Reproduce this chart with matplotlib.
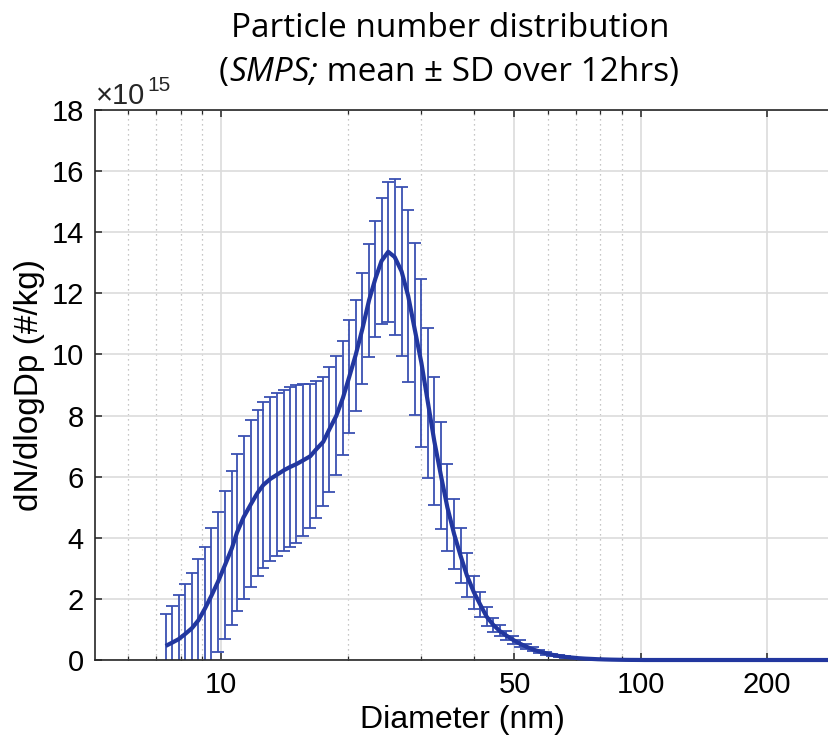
import matplotlib
matplotlib.use('Agg')
import matplotlib.pyplot as plt
from matplotlib.ticker import FixedLocator, NullFormatter, FixedFormatter

# SMPS channel midpoints (64 channels / decade)
diameter_nm = [7.37, 7.64, 7.91, 8.20, 8.51, 8.82, 9.14, 9.47, 9.82, 10.2,
               10.6, 10.9, 11.3, 11.8, 12.2, 12.6, 13.1, 13.6, 14.1, 14.6,
               15.1, 15.7, 16.3, 16.8, 17.5, 18.1, 18.8, 19.5, 20.2, 20.9,
               21.7, 22.5, 23.3, 24.1, 25.0, 25.9, 26.9, 27.9, 28.9, 30.0,
               31.1, 32.2, 33.4, 34.6, 35.9, 37.2, 38.5, 40.0, 41.4, 42.9,
               44.5, 46.1, 47.8, 49.6, 51.4, 53.3, 55.2, 57.3, 59.4, 61.5,
               63.8, 66.1, 68.5, 71.0, 73.7, 76.4, 79.1, 82.0, 85.1, 88.2,
               91.4, 94.7, 98.2, 101.8, 105.5, 109.4, 113.4, 117.6, 121.9, 126.3,
               131.0, 135.8, 140.7, 145.9, 151.2, 156.8, 162.5, 168.5, 174.7, 181.1,
               187.7, 194.6, 201.7, 209.1, 216.7, 224.7, 232.9, 241.4, 250.3, 259.5,
               269.0, 278.8, 289.0]

# dN/dlogDp in units of 1e15 #/kg
mean_dndlogdp = [0.46, 0.57, 0.68, 0.85, 1.04, 1.30, 1.68, 2.10, 2.56, 3.10,
                 3.66, 4.17, 4.67, 5.13, 5.47, 5.73, 5.93, 6.07, 6.21, 6.32,
                 6.41, 6.54, 6.67, 6.88, 7.14, 7.55, 7.99, 8.58, 9.28, 9.97,
                 10.84, 11.77, 12.48, 13.06, 13.36, 13.19, 12.72, 11.91, 10.84, 9.72,
                 8.41, 7.16, 6.03, 4.99, 4.12, 3.41, 2.77, 2.22, 1.82, 1.42,
                 1.15, 0.95, 0.80, 0.66, 0.54, 0.44, 0.35, 0.28, 0.22, 0.17,
                 0.13, 0.10, 0.08, 0.06, 0.045, 0.035, 0.025, 0.018, 0.012, 0.008,
                 0.005, 0.003, 0.002, 0.0, 0.0, 0.0, 0.0, 0.0, 0.0, 0.0,
                 0.0, 0.0, 0.0, 0.0, 0.0, 0.0, 0.0, 0.0, 0.0, 0.0,
                 0.0, 0.0, 0.0, 0.0, 0.0, 0.0, 0.0, 0.0, 0.0, 0.0,
                 0.0, 0.0, 0.0]

sd_dndlogdp = [1.04, 1.20, 1.45, 1.64, 1.82, 1.99, 2.01, 2.21, 2.29, 2.42,
               2.51, 2.57, 2.66, 2.73, 2.72, 2.72, 2.69, 2.67, 2.63, 2.63,
               2.59, 2.48, 2.36, 2.24, 2.11, 2.04, 1.95, 1.87, 1.85, 1.81,
               1.81, 1.84, 1.90, 2.07, 2.29, 2.55, 2.76, 2.82, 2.82, 2.74,
               2.44, 2.09, 1.75, 1.42, 1.14, 0.90, 0.72, 0.54, 0.42, 0.31,
               0.23, 0.18, 0.15, 0.12, 0.10, 0.08, 0.065, 0.05, 0.04, 0.03,
               0.025, 0.02, 0.015, 0.01, 0.008, 0.006, 0.005, 0.004, 0.003, 0.002,
               0.001, 0.001]

x_ticks = [10, 50, 100, 200]
x_ticklabels = ['10', '50', '100', '200']
x_minor = [6, 7, 8, 9, 20, 30, 40, 60, 70, 80, 90, 300]
y_ticks = [0, 2, 4, 6, 8, 10, 12, 14, 16, 18]

line_col = '#22379f'
err_col = '#3a50b2'
W, H = 829, 741

plt.rcParams['font.family'] = ['Liberation Sans', 'DejaVu Sans']

fig = plt.figure(figsize=(W / 100, H / 100), dpi=100)
ax = fig.add_axes([95 / W, (H - 660) / H, (W - 95) / W, 550 / H])

n_err = len(sd_dndlogdp)
ax.errorbar(diameter_nm[:n_err], mean_dndlogdp[:n_err], yerr=sd_dndlogdp,
            fmt='none', ecolor=err_col, elinewidth=1.3, capsize=4.5,
            capthick=1.3, zorder=2)
ax.plot(diameter_nm, mean_dndlogdp, color=line_col, lw=3.0, zorder=4,
        clip_on=False, solid_capstyle='butt')

ax.set_xscale('log')
ax.set_xlim(5, 281)
ax.set_ylim(0, 18)
ax.xaxis.set_major_locator(FixedLocator(x_ticks))
ax.xaxis.set_major_formatter(FixedFormatter(x_ticklabels))
ax.xaxis.set_minor_locator(FixedLocator(x_minor))
ax.xaxis.set_minor_formatter(NullFormatter())
ax.set_yticks(y_ticks)

ax.grid(True, which='major', color='#dcdcdc', lw=1.2)
ax.grid(True, which='minor', axis='x', color='#b4b4b4', lw=0.9, ls=(0, (1, 3)))
ax.set_axisbelow(True)

ax.spines['right'].set_visible(False)
for s in ['left', 'bottom', 'top']:
    ax.spines[s].set_color('#262626')
    ax.spines[s].set_linewidth(1.2)
ax.tick_params(which='both', direction='in', top=True, right=False,
               colors='#262626', labelsize=21, pad=8)
ax.tick_params(which='major', length=5, width=1.1)
ax.tick_params(which='minor', length=3, width=0.9)
for lab in ax.get_xticklabels() + ax.get_yticklabels():
    lab.set_color('black')

ax.set_xlabel('Diameter (nm)', fontsize=23, labelpad=4)
ax.set_ylabel('dN/dlogDp (#/kg)', fontsize=24, labelpad=5)

# title, two lines, "SMPS;" in italic
tfont = ['Open Sans', 'DejaVu Sans']
tsize = 24
fig.text(450 / W, 1 - 37 / H, 'Particle number distribution', family=tfont,
         fontsize=tsize, ha='center', va='baseline')
pieces = [('(', 'normal'), ('SMPS;', 'italic'), (' mean ± SD over 12hrs)', 'normal')]
objs = []
for txt, st in pieces:
    t = fig.text(0, 1 - 81 / H, txt, family=tfont, style=st, fontsize=tsize,
                 ha='left', va='baseline')
    objs.append(t)

# exponent label above the y axis
ex_base = fig.text(96 / W, 1 - 104 / H, '\u00d710', fontsize=21,
                   color='#262626', ha='left', va='baseline')
ex_sup = fig.text(0, 1 - 91 / H, '15', fontsize=15, color='#262626',
                  ha='left', va='baseline')

fig.canvas.draw()
rend = fig.canvas.get_renderer()
widths = [o.get_window_extent(rend).width for o in objs]
x0 = 449 - sum(widths) / 2
for o, w in zip(objs, widths):
    o.set_x(x0 / W)
    x0 += w
ex_sup.set_x((ex_base.get_window_extent(rend).x1 + 2) / W)

fig.savefig('out.png', dpi=100)
